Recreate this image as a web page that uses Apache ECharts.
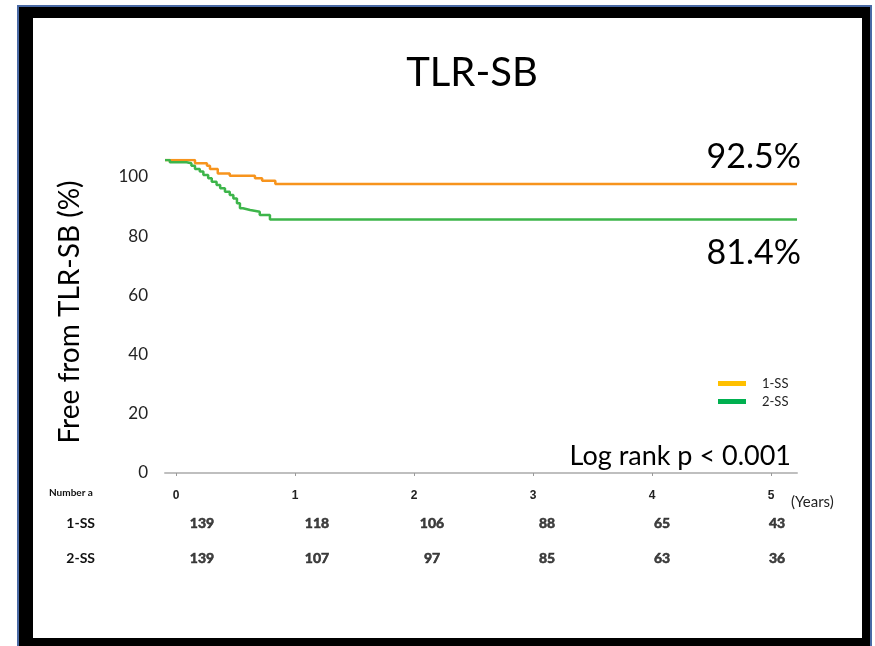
<!DOCTYPE html>
<html>
<head>
<meta charset="utf-8">
<script src="https://cdn.jsdelivr.net/npm/echarts@6/dist/echarts.min.js"></script>
<style>
  html, body { margin: 0; padding: 0; background: #fff; }
  #chart { width: 875px; height: 646px; }
</style>
</head>
<body>
<div id="chart"></div>
<script>
// ---- data ----
const titleText = 'TLR-SB';
const yAxisTitle = 'Free from TLR-SB (%)';
const seriesNames = ['1-SS', '2-SS'];
// Kaplan-Meier step points (years, % free)
const ss1Times = [0, 0.25, 0.35, 0.375, 0.44, 0.54, 0.75, 0.81, 0.92, 5.27];
const ss1Surv  = [100, 99.0, 98.2, 97.2, 95.8, 95.1, 94.3, 93.5, 92.5, 92.5];
const ss2Times = [0, 0.04, 0.18, 0.22, 0.25, 0.29, 0.32, 0.36, 0.39, 0.43, 0.46, 0.50, 0.54, 0.57, 0.60, 0.625, 0.65, 0.71, 0.79, 0.875, 5.27];
const ss2Surv  = [100, 99.3, 99.0, 98.2, 97.2, 96.4, 95.3, 94.3, 93.2, 92.2, 91.2, 90.1, 89.1, 88.0, 86.5, 84.9, 84.4, 83.8, 82.8, 81.4, 81.4];
const xTickLabels = [0, 1, 2, 3, 4, 5];
const yTickLabels = [0, 20, 40, 60, 80, 100];
const riskYears = [0, 1, 2, 3, 4, 5];
const riskSS1 = [139, 118, 106, 88, 65, 43];
const riskSS2 = [139, 107, 97, 85, 63, 36];
const pText = 'Log rank p < 0.001';

// ---- build ----
const zip = (a, b) => a.map((v, i) => [v, b[i]]);
const riskData = [];
riskYears.forEach((y, i) => {
  riskData.push([y, 0, riskSS1[i]]);
  riskData.push([y, 1, riskSS2[i]]);
});
const lastPct = arr => arr[arr.length - 1].toFixed(1) + '%';
const F = 'Lato, "Open Sans", sans-serif';

const chart = echarts.init(document.getElementById('chart'), null, { renderer: 'canvas' });
chart.setOption({
  backgroundColor: '#ffffff',
  animation: false,
  grid: [
    { left: 165, top: 160, width: 632, height: 320 },
    { left: 202, top: 505.5, width: 575, height: 70 }
  ],
  xAxis: [
    { type: 'value', gridIndex: 0, min: 0, max: 5.27, show: false },
    {
      type: 'value', gridIndex: 0, position: 'bottom', offset: 3,
      min: -0.0924, max: 5.218,
      axisLine: { show: true, lineStyle: { color: '#bfbfbf', width: 2 } },
      axisTick: { show: true, length: 3, inside: false, customValues: xTickLabels, lineStyle: { color: '#999' } },
      splitLine: { show: false },
      axisLabel: { customValues: xTickLabels, margin: 7, fontSize: 12, fontWeight: 'bold', color: '#222', fontFamily: '"Liberation Sans", Arial, sans-serif' }
    },
    { type: 'value', gridIndex: 1, min: 0, max: 5, show: false }
  ],
  yAxis: [
    { type: 'value', gridIndex: 0, min: 0, max: 100, show: false },
    {
      type: 'value', gridIndex: 0, position: 'left',
      min: -2.36, max: 105.74,
      axisLine: { show: false }, axisTick: { show: false }, splitLine: { show: false },
      axisLabel: { customValues: yTickLabels, margin: 17, fontSize: 17, color: '#222', fontFamily: F }
    },
    {
      type: 'category', gridIndex: 1, data: seriesNames, inverse: true,
      axisLine: { show: false }, axisTick: { show: false }, splitLine: { show: false },
      axisLabel: { margin: 107, fontSize: 14, fontWeight: 'bold', color: '#111', fontFamily: F }
    }
  ],
  legend: {
    orient: 'vertical', left: 713, top: 372,
    itemWidth: 28, itemHeight: 5, itemGap: 5,
    icon: 'rect',
    textStyle: { fontSize: 13, color: '#222', fontFamily: F, padding: [0, 0, 0, 11] },
    data: [
      { name: seriesNames[0], itemStyle: { color: '#FFC000' } },
      { name: seriesNames[1], itemStyle: { color: '#00B050' } }
    ]
  },
  series: [
    {
      name: seriesNames[0], type: 'line', step: 'end', xAxisIndex: 0, yAxisIndex: 0,
      showSymbol: false, symbol: 'none', data: zip(ss1Times, ss1Surv),
      lineStyle: { color: '#F7941D', width: 2.5 }, itemStyle: { color: '#FFC000' }
    },
    {
      name: seriesNames[1], type: 'line', step: 'end', xAxisIndex: 0, yAxisIndex: 0,
      showSymbol: false, symbol: 'none', data: zip(ss2Times, ss2Surv),
      lineStyle: { color: '#3DB54A', width: 2.5 }, itemStyle: { color: '#00B050' }
    },
    {
      type: 'scatter', xAxisIndex: 2, yAxisIndex: 2, silent: true,
      symbolSize: 1, itemStyle: { color: 'rgba(0,0,0,0)' },
      data: riskData,
      label: {
        show: true, position: 'inside',
        formatter: p => String(p.value[2]),
        fontSize: 14, fontWeight: 700, color: '#111', fontFamily: F,
        textBorderColor: '#111', textBorderWidth: 0.6
      }
    }
  ],
  graphic: [
    { type: 'rect', z: -3, silent: true, shape: { x: 17, y: 5, width: 855, height: 660 }, style: { fill: '#4a6aa5' } },
    { type: 'rect', z: -2, silent: true, shape: { x: 19, y: 7, width: 851, height: 660 }, style: { fill: '#000000' } },
    { type: 'rect', z: -1, silent: true, shape: { x: 33, y: 18, width: 829, height: 620 }, style: { fill: '#ffffff' } },
    { type: 'text', x: 472, y: 73, style: { text: titleText, font: '40px ' + F, fill: '#000', textAlign: 'center', textVerticalAlign: 'middle' } },
    { type: 'text', x: 70, y: 312, rotation: Math.PI / 2, style: { text: yAxisTitle, font: '28px ' + F, fill: '#000', textAlign: 'center', textVerticalAlign: 'middle' } },
    { type: 'text', x: 801, y: 157, style: { text: lastPct(ss1Surv), font: '34px ' + F, fill: '#000', textAlign: 'right', textVerticalAlign: 'middle' } },
    { type: 'text', x: 801, y: 253, style: { text: lastPct(ss2Surv), font: '34px ' + F, fill: '#000', textAlign: 'right', textVerticalAlign: 'middle' } },
    { type: 'text', x: 791, y: 456, style: { text: pText, font: '27px ' + F, fill: '#000', textAlign: 'right', textVerticalAlign: 'middle' } },
    { type: 'text', x: 49, y: 493, style: { text: 'Number a', font: 'bold 10px ' + F, fill: '#111', textAlign: 'left', textVerticalAlign: 'middle' } },
    { type: 'text', x: 791, y: 502, style: { text: '(Years)', font: '15px ' + F, fill: '#222', textAlign: 'left', textVerticalAlign: 'middle' } }
  ]
});
</script>
</body>
</html>
